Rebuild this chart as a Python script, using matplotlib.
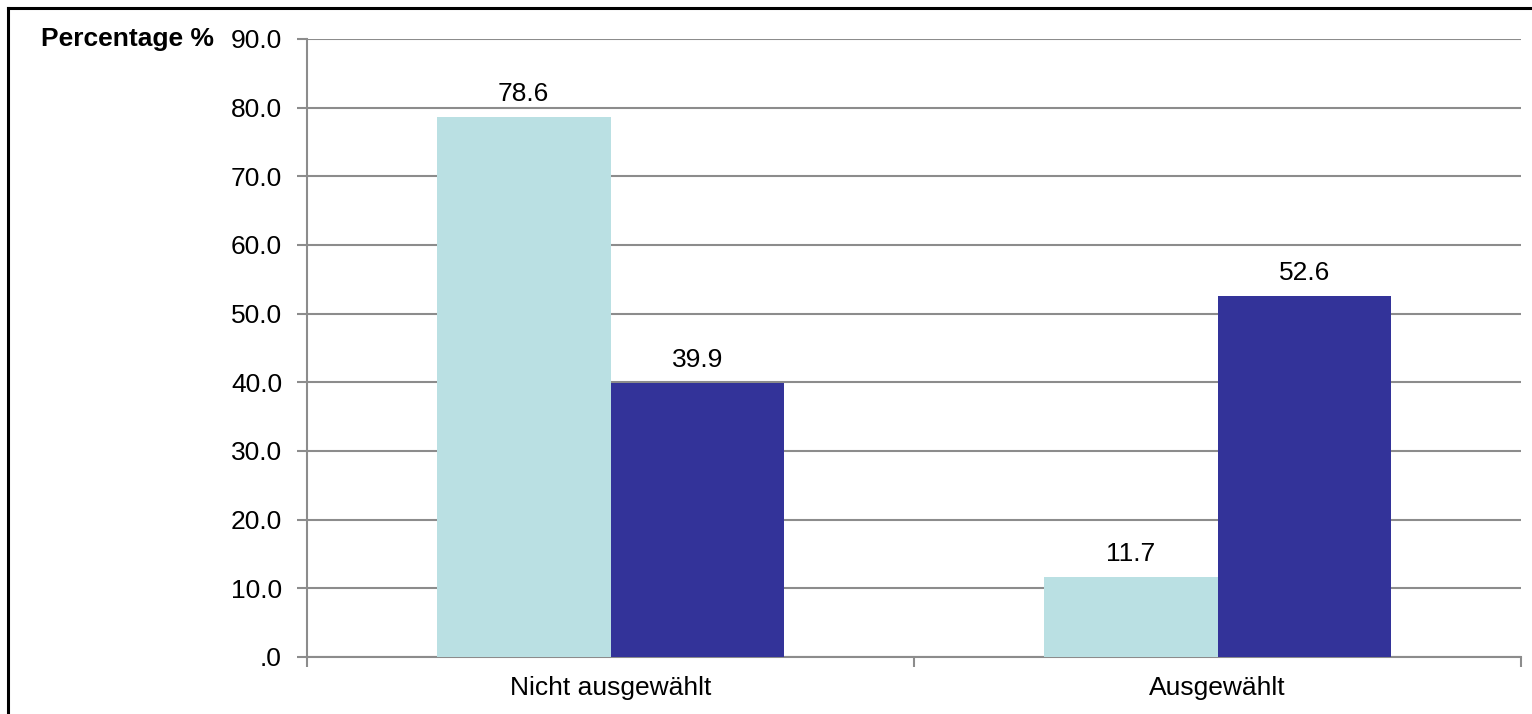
import matplotlib
matplotlib.use("Agg")
import matplotlib.pyplot as plt
import numpy as np
from matplotlib.lines import Line2D

categories = ["Nicht ausgewählt", "Ausgewählt"]
series_a = [78.6, 11.7]
series_b = [39.9, 52.6]
yticks = [0, 10, 20, 30, 40, 50, 60, 70, 80, 90]
ytick_labels = [".0", "10.0", "20.0", "30.0", "40.0", "50.0", "60.0", "70.0", "80.0", "90.0"]

plt.rcParams['font.family'] = ['Liberation Sans', 'DejaVu Sans']

W, H, DPI = 1532, 714, 100
fig = plt.figure(figsize=(W / DPI, H / DPI), dpi=DPI)
fig.patch.set_facecolor("white")

left, right, top, bottom = 307, 1521, 39, 657
ax = fig.add_axes([left / W, 1 - bottom / H, (right - left) / W, (bottom - top) / H])

x = np.arange(len(categories))
w = 0.286
col_a = "#BAE0E3"
col_b = "#333399"
ba = ax.bar(x - w / 2, series_a, w, color=col_a, zorder=3)
bb = ax.bar(x + w / 2, series_b, w, color=col_b, zorder=3)

fs = 19
for bars, vals in ((ba, series_a), (bb, series_b)):
    for r, v in zip(bars, vals):
        ax.annotate(f"{v:.1f}", (r.get_x() + r.get_width() / 2, v),
                    xytext=(0, 8), textcoords="offset points",
                    ha="center", va="bottom", fontsize=fs, color="black")

ax.set_xlim(-0.5, 1.5)
ax.set_ylim(0, 90)
ax.set_yticks(yticks)
ax.set_yticklabels(ytick_labels, fontsize=fs)
ax.set_xticks([-0.5, 0.5, 1.5], minor=False)
ax.set_xticklabels([])
ax.set_xticks(x, minor=True)
ax.set_xticklabels(categories, minor=True, fontsize=fs)
ax.tick_params(axis="x", which="minor", length=0, pad=14)
ax.tick_params(axis="x", which="major", length=7, width=1.5, color="#8C8C8C")
ax.tick_params(axis="y", length=7, width=1.5, color="#8C8C8C", pad=11)

ax.yaxis.grid(True, color="#8C8C8C", linewidth=1.5, zorder=0)
ax.set_axisbelow(True)
for s in ("top", "right"):
    ax.spines[s].set_visible(False)
for s in ("left", "bottom"):
    ax.spines[s].set_color("#8C8C8C")
    ax.spines[s].set_linewidth(1.5)

fig.text(214 / W, 1 - 39 / H, "Percentage %", ha="right", va="center",
         fontsize=fs, fontweight="bold")

# outer frame (left and top visible)
fig.add_artist(Line2D([8 / W, 8 / W], [0, 1 - 8 / H], color="black", linewidth=2.2,
                      transform=fig.transFigure))
fig.add_artist(Line2D([8 / W, 1], [1 - 8 / H, 1 - 8 / H], color="black", linewidth=2.2,
                      transform=fig.transFigure))

fig.savefig("out.png", dpi=DPI)
